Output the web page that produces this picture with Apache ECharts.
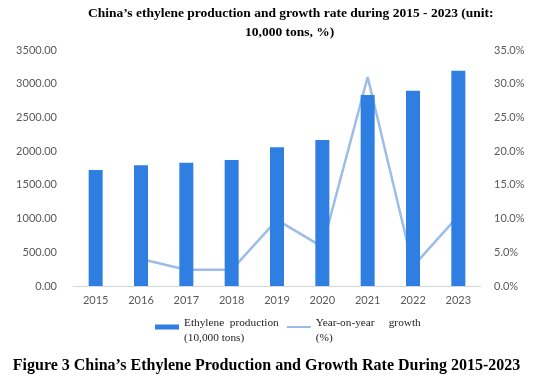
<!DOCTYPE html>
<html><head><meta charset="utf-8">
<script src="https://cdn.jsdelivr.net/npm/echarts@6/dist/echarts.min.js"></script>
<style>html,body{margin:0;padding:0;background:#fff}#c{width:533px;height:380px}</style>
</head><body><div id="c"></div>
<script>
var years = ['2015','2016','2017','2018','2019','2020','2021','2022','2023'];
var production = [1720, 1790, 1829, 1869, 2057, 2165, 2833, 2897, 3193];
var growth = [null, 4.0, 2.4, 2.4, 9.8, 5.8, 31.0, 2.9, 10.4];
var leftTicks = [0, 3500, 500];
var rightTicks = [0, 35, 5];

var chart = echarts.init(document.getElementById('c'));
var serif = '"Liberation Serif","Times New Roman",serif';
var sans = 'Lato,"Noto Sans",sans-serif';
var titleStyle = {fontFamily: serif, fontWeight: 'bold', fontSize: 13.5, color: '#000'};
chart.setOption({
  animation: false,
  title: [{
    text: "China’s ethylene production and growth rate during 2015 - 2023 (unit:",
    left: 88, top: 7, padding: 0, textStyle: titleStyle
  }, {
    text: "10,000 tons, %)",
    left: 245, top: 26, padding: 0, textStyle: titleStyle
  }, {
    text: "Figure 3 China’s Ethylene Production and Growth Rate During 2015-2023",
    left: 'center', top: 358, padding: 0,
    textStyle: {fontFamily: serif, fontWeight: 'bold', fontSize: 16, color: '#000'}
  }],
  legend: {
    left: 150, top: 303, itemGap: 8,
    data: [
      {name: 'Ethylene  production\n(10,000 tons)', icon: 'rect'},
      {name: 'Year-on-year     growth\n(%)', icon: 'path://M0,0 L0.01,0 Z M0,1.5 L24,1.5 L24,3.5 L0,3.5 Z M0,5 L0.01,5 Z'}
    ],
    formatter: function (name) { return '{s| }\n' + name; },
    itemWidth: 24, itemHeight: 5,
    textStyle: {fontFamily: serif, fontSize: 11.3, color: '#222', lineHeight: 15,
      rich: {s: {fontSize: 1, lineHeight: 8, height: 8}}}
  },
  grid: {left: 73, right: 52, top: 50, bottom: 94},
  xAxis: {
    type: 'category', data: years,
    axisLine: {lineStyle: {color: '#d9d9d9'}},
    axisTick: {show: false},
    axisLabel: {color: '#595959', fontFamily: sans, fontSize: 11, margin: 9}
  },
  yAxis: [{
    type: 'value', min: leftTicks[0], max: leftTicks[1], interval: leftTicks[2],
    splitLine: {show: false}, axisLine: {show: false}, axisTick: {show: false},
    axisLabel: {color: '#595959', fontFamily: sans, fontSize: 11, margin: 16,
      formatter: function (v) { return v.toFixed(2); }}
  }, {
    type: 'value', min: rightTicks[0], max: rightTicks[1], interval: rightTicks[2],
    splitLine: {show: false}, axisLine: {show: false}, axisTick: {show: false},
    axisLabel: {color: '#595959', fontFamily: sans, fontSize: 11, margin: 13,
      formatter: function (v) { return v.toFixed(1) + '%'; }}
  }],
  series: [{
    name: 'Year-on-year     growth\n(%)', type: 'line', yAxisIndex: 1, data: growth,
    symbol: 'none', z: 1,
    lineStyle: {color: '#9dbde6', width: 2.5},
    itemStyle: {color: '#9dbde6'}
  }, {
    name: 'Ethylene  production\n(10,000 tons)', type: 'bar', data: production,
    barWidth: 14, z: 2,
    itemStyle: {color: '#2f7fe3'}
  }]
});
</script></body></html>
